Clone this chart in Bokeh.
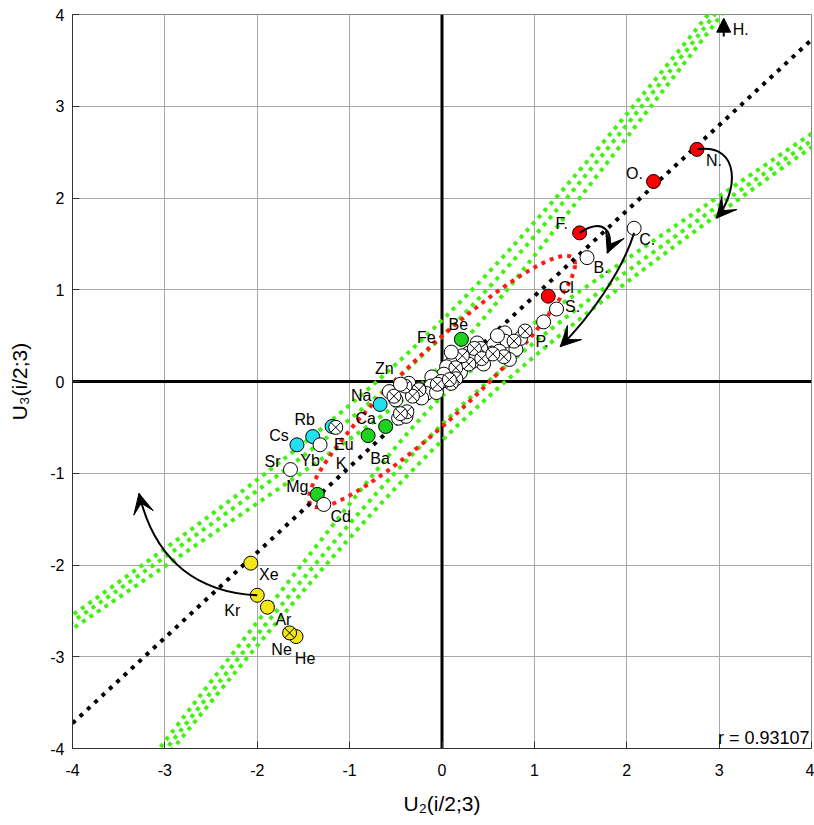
import numpy as np
from bokeh.plotting import figure
from bokeh.models import (ColumnDataSource, FixedTicker, Span, Label, Arrow,
                          VeeHead, NormalHead, Range1d)
from bokeh.core.properties import value
from bokeh.embed import file_html
from bokeh.resources import INLINE

# ---------------- data ----------------
r_value = 0.93107
ticks = [-4, -3, -2, -1, 0, 1, 2, 3, 4]
tick_labels = ["-4", "-3", "-2", "-1", "0", "1", "2", "3", "4"]
x_label = "U\u2082(i/2;3)"
y_label = "U\u2083(i/2;3)"

# labelled elements (drawn in this order)
names = ["N.", "O.", "F.", "Cl", "C.", "B.", "S.", "P.", "Be", "Fe", "Zn", "Na",
         "Ca", "Ba", "K", "Eu", "Rb", "Cs", "Yb", "Sr", "Mg", "Cd",
         "Xe", "Kr", "Ar", "He", "Ne"]
u2 = [2.76, 2.29, 1.49, 1.15, 2.08, 1.57, 1.24, 0.90, 0.21, 0.10, -0.45, -0.67,
      -0.61, -0.80, -1.19, -1.15, -1.40, -1.57, -1.32, -1.64, -1.35, -1.28,
      -2.07, -2.00, -1.89, -1.58, -1.65]
u3 = [2.53, 2.18, 1.62, 0.93, 1.67, 1.35, 0.79, 0.55, 0.46, 0.32, -0.03, -0.25,
      -0.49, -0.59, -0.49, -0.50, -0.60, -0.69, -0.69, -0.96, -1.23, -1.34,
      -1.98, -2.33, -2.46, -2.78, -2.74]
group = ["red", "red", "red", "red", "white", "white", "white", "white", "green", "white", "white", "cyan",
         "green", "green", "cyan", "white", "cyan", "cyan", "white", "white", "green", "white",
         "yellow", "yellow", "yellow", "yellow", "yellow"]
crossed = [False, False, False, False, False, False, False, True, False, False, False, False,
           False, False, False, True, False, False, False, False, False, False,
           False, False, False, False, True]

# unlabelled elements of the central cluster
plain_u2 = [1.10, 0.68, 0.68, 0.80, 0.56, 0.54, 0.29, 0.27, 0.11, 0.05, 0.02, -0.11,
            -0.12, -0.17, -0.25, -0.32, -0.57, -0.43, -0.47, -0.39, 0.73, 0.62, 0.45,
            0.85, 0.38, 0.20, -0.06, -0.22, -0.36, -0.50, 0.60, 0.33]
plain_u3 = [0.65, 0.53, 0.44, 0.35, 0.40, 0.31, 0.31, 0.25, 0.20, 0.16, 0.08, 0.05,
            -0.05, -0.13, -0.08, -0.08, -0.11, -0.36, -0.40, -0.38, 0.24, 0.33, 0.19,
            0.47, 0.42, 0.10, -0.12, -0.18, -0.02, -0.20, 0.50, 0.22]
cross_u2 = [0.67, 0.42, 0.35, 0.43, 0.15, 0.15, 0.10, -0.01, -0.05, -0.25, -0.32,
            -0.52, -0.38, 0.29, 0.08, -0.45, 0.55, 0.78, 0.22, -0.40]
cross_u3 = [0.27, 0.36, 0.36, 0.25, 0.15, 0.03, -0.02, 0.00, -0.03, -0.09, -0.16,
            -0.16, -0.33, 0.19, 0.02, -0.35, 0.30, 0.44, 0.28, -0.05]

# band curves (two asymptotes y = a*x + b, three levels each) and red contour
asym_a = [1.3086, 0.6774]
asym_b = [0.02, 0.003]
band_levels = [0.03, 0.23, 0.43]
ellipse_sx, ellipse_sy, ellipse_sin_delta = 1.44, 1.37, 0.36

# curved arrows: start, control1, control2, end
arr_x0 = [2.76, 1.49, 2.08, -2.00]
arr_y0 = [2.53, 1.62, 1.62, -2.33]
arr_cx0 = [3.25, 1.75, 1.95, -2.60]
arr_cy0 = [2.60, 1.80, 1.20, -2.30]
arr_cx1 = [3.20, 1.88, 1.60, -3.10]
arr_cy1 = [2.05, 1.62, 0.70, -2.00]
arr_x1 = [2.97, 1.79, 1.28, -3.28]
arr_y1 = [1.78, 1.40, 0.38, -1.22]
h_arrow_x = 3.05
h_arrow_y = [3.76, 3.96]

# label offsets in screen px (dx right, dy down)
lab_dx = [17, -19, -18, 18, 13, 14, 16, 17, -3, -25, -16, -19,
          -20, 12, 9, 8, -8, -18, -10, -18, -20, 17,
          18, -25, 16, 9, -8]
lab_dy = [11, -8, -9, -9, 11, 10, -3, 10, -15, -15, -16, -9,
          -8, 23, 37, 17, -17, -9, 16, -8, -8, 12,
          11, 15, 12, 22, 17]

# ---------------- styles ----------------
fills = {"red": "#ff0000", "white": "#ffffff", "green": "#1ed21e",
         "cyan": "#22e0ee", "yellow": "#f5e61a"}
GREEN_LINE = "#44f011"
RED_LINE = "#ff1a1a"
NARROW = "'Liberation Sans Narrow', 'Arial Narrow', 'Liberation Sans', sans-serif"
SANS = "Liberation Sans"

p = figure(width=814, height=824, x_range=Range1d(-4, 4), y_range=Range1d(-4, 4),
           output_backend="svg", toolbar_location=None,
           min_border_left=72, min_border_right=3, min_border_top=14, min_border_bottom=76)
p.background_fill_color = "white"
p.outline_line_color = "#888888"

for ax in (p.xaxis[0], p.yaxis[0]):
    ax.ticker = FixedTicker(ticks=ticks)
    ax.major_label_overrides = {t: s for t, s in zip(ticks, tick_labels)}
    ax.minor_tick_line_color = None
    ax.major_tick_in = 7
    ax.major_tick_out = 0
    ax.major_tick_line_color = "#333333"
    ax.axis_line_color = "#333333"
    ax.major_label_text_font = NARROW
    ax.major_label_text_font_size = "16px"
    ax.major_label_text_color = "black"
    ax.axis_label_text_font = NARROW
    ax.axis_label_text_font_size = "21px"
    ax.axis_label_text_font_style = "normal"
    ax.axis_label_text_color = "black"
p.xaxis.axis_label = x_label
p.yaxis.axis_label = y_label
p.xaxis.major_label_standoff = 15
p.xaxis.axis_label_standoff = 13
p.yaxis.major_label_standoff = 8
p.yaxis.axis_label_standoff = 16
p.yaxis.major_label_orientation = "horizontal"

p.xgrid.ticker = FixedTicker(ticks=ticks)
p.ygrid.ticker = FixedTicker(ticks=ticks)
p.grid.grid_line_color = "#a8a8a8"
p.grid.grid_line_width = 1

p.add_layout(Span(location=0, dimension="height", line_color="black", line_width=3, level="underlay"))
p.add_layout(Span(location=0, dimension="width", line_color="black", line_width=3, level="underlay"))

# green hyperbolic bands
a1, a2 = asym_a
b1, b2 = asym_b
for k in band_levels:
    for sgn in (1, -1):
        u = sgn * np.geomspace(1e-3, 40, 4000)
        w = k / u
        xs = (u - w - (b2 - b1)) / (a2 - a1)
        ys = u + a1 * xs + b1
        p.line(xs, ys, line_color=GREEN_LINE, line_width=4, line_dash="4 5", line_cap="butt")

# red contour
t = np.linspace(0, 2 * np.pi, 500)
delta = np.arcsin(ellipse_sin_delta)
p.line(ellipse_sx * np.cos(t), ellipse_sy * np.cos(t - delta), line_color=RED_LINE,
       line_width=4, line_dash="4 5", line_cap="butt")

# black regression diagonal
xd = np.array([ticks[0], ticks[-1]], dtype=float)
p.line(xd, r_value * xd, line_color="black", line_width=4, line_dash="4 6", line_cap="butt")

# cluster markers
p.scatter(plain_u2, plain_u3, marker="circle", size=14, fill_color="white",
          line_color="black", line_width=1)
p.scatter(cross_u2, cross_u3, marker="circle_x", size=14, fill_color="white",
          line_color="black", line_width=1)

# labelled markers
src = ColumnDataSource(dict(x=u2, y=u3, name=names,
                            fill=[fills[g] for g in group],
                            marker=["circle_x" if c else "circle" for c in crossed],
                            dx=lab_dx, dy=lab_dy))
p.scatter("x", "y", marker="marker", size=14, fill_color="fill", line_color="black",
          line_width=1, source=src)
p.text("x", "y", text="name", x_offset="dx", y_offset="dy", source=src,
       text_font=value(SANS), text_font_size=value("16px"), text_align="center",
       text_baseline="middle", text_color="black")

# curved arrows
asrc = ColumnDataSource(dict(x0=arr_x0, y0=arr_y0, x1=arr_x1, y1=arr_y1,
                             cx0=arr_cx0, cy0=arr_cy0, cx1=arr_cx1, cy1=arr_cy1))
p.bezier("x0", "y0", "x1", "y1", "cx0", "cy0", "cx1", "cy1", source=asrc,
         line_color="black", line_width=2)
for i in range(len(arr_x0)):
    dxv = arr_x1[i] - arr_cx1[i]
    dyv = arr_y1[i] - arr_cy1[i]
    n = np.hypot(dxv, dyv)
    p.add_layout(Arrow(end=VeeHead(size=20, fill_color="black", line_color="black"),
                       x_start=arr_x1[i] - 0.03 * dxv / n, y_start=arr_y1[i] - 0.03 * dyv / n,
                       x_end=arr_x1[i], y_end=arr_y1[i], line_width=2, line_color="black"))

# H arrow (off-scale)
p.add_layout(Arrow(end=NormalHead(size=14, fill_color="black", line_color="black"),
                   x_start=h_arrow_x, y_start=h_arrow_y[0], x_end=h_arrow_x, y_end=h_arrow_y[1],
                   line_width=2, line_color="black"))
p.add_layout(Label(x=h_arrow_x, y=h_arrow_y[1], text="H.", x_offset=9, y_offset=-20,
                   text_font=SANS, text_font_size="16px", text_baseline="bottom",
                   text_color="black"))

p.add_layout(Label(x=ticks[-1], y=ticks[0], text=f"r = {r_value}", text_align="right",
                   text_baseline="bottom", x_offset=-2, y_offset=1,
                   text_font=SANS, text_font_size="18px", text_color="black"))

open("out.html", "w").write(file_html(p, INLINE))
